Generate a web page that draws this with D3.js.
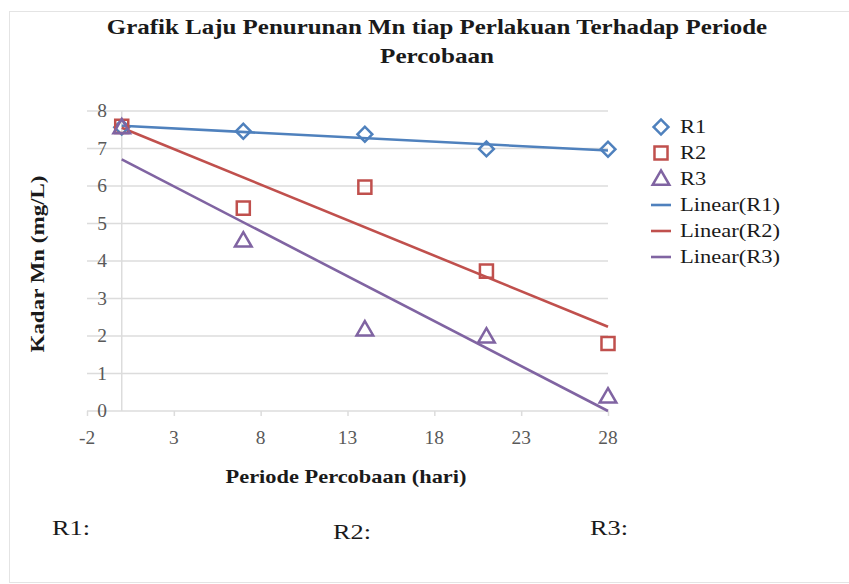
<!DOCTYPE html>
<html>
<head>
<meta charset="utf-8">
<script src="https://cdn.jsdelivr.net/npm/d3@7"></script>
<style>
  body { margin: 0; background: #fff; }
</style>
</head>
<body>
<svg id="chart" width="849" height="584"></svg>
<script>
// data
var days = [0, 7, 14, 21, 28];
var r1 = [7.57, 7.46, 7.38, 6.99, 6.98];
var r2 = [7.59, 5.41, 5.97, 3.73, 1.80];
var r3 = [7.56, 4.54, 2.17, 1.98, 0.38];
var seriesNames = ["R1", "R2", "R3"];
var xTicks = [-2, 3, 8, 13, 18, 23, 28];
var yTicks = [0, 1, 2, 3, 4, 5, 6, 7, 8];
var bottomLabels = ["R1:", "R2:", "R3:"];

var FONT = "'Liberation Serif', 'Times New Roman', serif";
var colors = ["#4F81BD", "#C0504D", "#8064A2"];
var symbolSize = [110, 170, 120];

var svg = d3.select("#chart");

// the reference text is wider than normal Times, so stretch horizontally
function stretchedText(parent, str, cx, cy, size, width, opts) {
    opts = opts || {};
    var g = parent.append("g");
    var t = g.append("text")
        .style("font-family", FONT)
        .attr("font-size", size)
        .attr("font-weight", opts.bold ? "bold" : "normal")
        .attr("fill", opts.fill || "#1a1a1a")
        .attr("text-anchor", opts.anchor || "middle")
        .text(str);
    var k = opts.scale || (width / t.node().getComputedTextLength());
    g.attr("transform", "translate(" + cx + "," + cy + ")" + (opts.rotate ? " rotate(" + opts.rotate + ")" : "") + " scale(" + k + ",1)");
    return k;
}

// outer frame
svg.append("rect")
    .attr("x", 9.5).attr("y", 11.5)
    .attr("width", 860).attr("height", 571)
    .attr("fill", "none")
    .attr("stroke", "#e4e4e4");

var x = d3.scaleLinear().domain([-2, 28]).range([87, 608]);
var y = d3.scaleLinear().domain([0, 8]).range([411, 111]);

// horizontal gridlines
svg.append("g").selectAll("line")
    .data(yTicks).enter().append("line")
    .attr("x1", x(-2)).attr("x2", x(28))
    .attr("y1", function(d) { return y(d); })
    .attr("y2", function(d) { return y(d); })
    .attr("stroke", "#dcdcdc")
    .attr("stroke-width", 1.5);

// vertical axis at x = 0
svg.append("line")
    .attr("x1", x(0)).attr("x2", x(0))
    .attr("y1", y(8)).attr("y2", y(0))
    .attr("stroke", "#dcdcdc")
    .attr("stroke-width", 1.5);

// y tick labels
var yLab = svg.append("g");
yTicks.forEach(function(v) {
    stretchedText(yLab, String(v), 102, y(v) + 6, 18, 0, { scale: 1.08, fill: "#595959" });
});

// x axis ticks + labels
var xAxis = svg.append("g")
    .attr("transform", "translate(0," + y(0) + ")")
    .call(d3.axisBottom(x).tickValues(xTicks).tickSize(5).tickFormat(function(d) { return ""; }));
xAxis.select(".domain").remove();
xAxis.selectAll(".tick line").attr("stroke", "#dcdcdc").attr("stroke-width", 1.5);
var xLab = svg.append("g");
xTicks.forEach(function(v) {
    stretchedText(xLab, String(v), x(v), 444, 18, 0, { scale: 1.08, fill: "#595959" });
});

// linear trendlines (least squares, like Excel)
function fit(xs, ys) {
    var mx = d3.mean(xs), my = d3.mean(ys);
    var sxy = d3.sum(xs, function(v, i) { return (v - mx) * (ys[i] - my); });
    var sxx = d3.sum(xs, function(v) { return (v - mx) * (v - mx); });
    var b = sxy / sxx;
    return { a: my - b * mx, b: b };
}

var allSeries = [r1, r2, r3];
var line = d3.line()
    .x(function(d) { return x(d[0]); })
    .y(function(d) { return y(d[1]); });

allSeries.forEach(function(vals, i) {
    var f = fit(days, vals);
    var x0 = d3.min(days), x1 = d3.max(days);
    svg.append("path")
        .datum([[x0, f.a + f.b * x0], [x1, Math.max(0, f.a + f.b * x1)]])
        .attr("d", line)
        .attr("fill", "none")
        .attr("stroke", colors[i])
        .attr("stroke-width", 2.6);
});

// markers: diamond (rotated square), square, triangle
function marker(sel, i) {
    var type = i === 2 ? d3.symbolTriangle : d3.symbolSquare;
    sel.append("path")
        .attr("d", d3.symbol().type(type).size(symbolSize[i]))
        .attr("transform", i === 0 ? "rotate(45)" : (i === 2 ? "translate(0,1)" : null))
        .attr("fill", "none")
        .attr("stroke", colors[i])
        .attr("stroke-width", 2.5);
}

allSeries.forEach(function(vals, i) {
    var pts = svg.append("g").selectAll("g")
        .data(vals).enter().append("g")
        .attr("transform", function(d, j) {
            return "translate(" + x(days[j]) + "," + y(d) + ")";
        });
    marker(pts, i);
});

// title
stretchedText(svg, "Grafik Laju Penurunan Mn tiap Perlakuan Terhadap Periode", 437, 34, 21, 661, { bold: true });
stretchedText(svg, "Percobaan", 437, 63, 21, 114, { bold: true });

// axis titles
stretchedText(svg, "Kadar Mn (mg/L)", 44, 264, 19, 177, { bold: true, rotate: -90 });
stretchedText(svg, "Periode Percobaan (hari)", 346, 483, 19, 241, { bold: true });

// legend
var legendItems = seriesNames.map(function(n, i) { return { name: n, i: i, marker: true }; })
    .concat(seriesNames.map(function(n, i) { return { name: "Linear(" + n + ")", i: i, marker: false }; }));

legendItems.forEach(function(d, k) {
    var row = svg.append("g").attr("transform", "translate(661," + (127 + k * 26) + ")");
    if (d.marker) {
        marker(row, d.i);
    } else {
        row.append("line")
            .attr("x1", -10).attr("x2", 10)
            .attr("stroke", colors[d.i])
            .attr("stroke-width", 2.6);
    }
    stretchedText(row, d.name, 19, 6, 18, 0, { anchor: "start", scale: 1.25 });
});

// labels under the chart
var bottomX = [52, 333, 590];
var bottomY = [535, 539, 535];
bottomLabels.forEach(function(s, i) {
    stretchedText(svg, s, bottomX[i], bottomY[i], 22, 38, { anchor: "start" });
});
</script>
</body>
</html>
